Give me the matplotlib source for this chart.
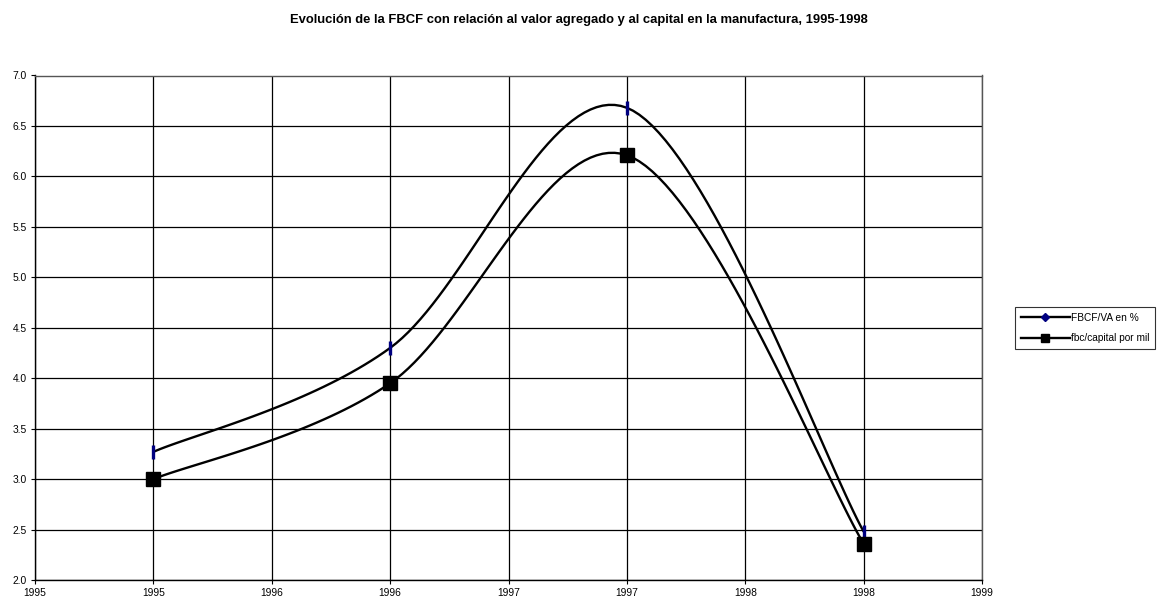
import numpy as np
import matplotlib
matplotlib.use("Agg")
import matplotlib.pyplot as plt
from matplotlib.lines import Line2D

years = [1995, 1996, 1997, 1998]
fbcf_va = [3.27, 4.30, 6.68, 2.48]
fbc_capital = [3.00, 3.95, 6.21, 2.36]
series_names = ["FBCF/VA en %", "fbc/capital por mil"]
title = "Evolución de la FBCF con relación al valor agregado y al capital en la manufactura, 1995-1998"

plt.rcParams['font.family'] = ['Liberation Sans', 'DejaVu Sans']


def smooth(xs, ys, n=40):
    # Excel-style smoothed line (Catmull-Rom Bezier through the points)
    P = np.column_stack([xs, ys]).astype(float)
    P = np.vstack([P[0], P, P[-1]])
    out = []
    t = np.linspace(0, 1, n)[:, None]
    for i in range(1, len(P) - 2):
        p0, p1, p2, p3 = P[i - 1], P[i], P[i + 1], P[i + 2]
        c1 = p1 + (p2 - p0) / 6
        c2 = p2 - (p3 - p1) / 6
        seg = ((1 - t) ** 3) * p1 + 3 * ((1 - t) ** 2) * t * c1 + 3 * (1 - t) * t ** 2 * c2 + t ** 3 * p2
        out.append(seg if i == 1 else seg[1:])
    S = np.vstack(out)
    return S[:, 0], S[:, 1]


fig = plt.figure(figsize=(11.61, 6.03), dpi=100)
ax = fig.add_axes([35 / 1161, 1 - 580 / 603, (982 - 35) / 1161, (580 - 75.5) / 603])

for vals in [fbcf_va, fbc_capital]:
    sx, sy = smooth(years, vals)
    ax.plot(sx, sy, color='black', lw=1.7, zorder=3, solid_capstyle='round')

ax.plot(years, fbcf_va, linestyle='none', marker='|', markersize=10.5, mew=2.4,
        color='#000080', zorder=4)
ax.plot(years, fbc_capital, linestyle='none', marker='s', markersize=10.5,
        color='black', zorder=4)

ax.set_xlim(1994.5, 1998.5)
ax.set_ylim(2.0, 7.0)
xt = np.arange(1994.5, 1998.51, 0.5)
ax.set_xticks(xt)
ax.set_xticklabels([str(int(np.floor(v + 0.5))) for v in xt], fontsize=7.4)
yt = np.arange(2.0, 7.01, 0.5)
ax.set_yticks(yt)
ax.set_yticklabels([f"{v:.1f}" for v in yt], fontsize=7.4)
ax.grid(True, color='black', lw=0.9)
ax.set_axisbelow(True)
ax.tick_params(direction='out', length=3, width=0.8, color='black', pad=3)
for side in ['left', 'bottom']:
    ax.spines[side].set_color('black')
    ax.spines[side].set_linewidth(1.0)
for side in ['top', 'right']:
    ax.spines[side].set_color('#555555')
    ax.spines[side].set_linewidth(1.0)

fig.text(579 / 1161, 1 - 20 / 603, title, ha='center', va='center', fontsize=9.4, fontweight='bold')

handles = [
    Line2D([], [], color='black', lw=1.7, marker='D', markersize=4.5, markerfacecolor='#000080',
           markeredgecolor='#000080'),
    Line2D([], [], color='black', lw=1.7, marker='s', markersize=6, markerfacecolor='black',
           markeredgecolor='black'),
]
leg = fig.legend(handles, series_names, loc='center left', bbox_to_anchor=(1015 / 1161, 1 - 328 / 603),
                 fontsize=7.3, frameon=True, fancybox=False, edgecolor='black', handlelength=4.8,
                 handletextpad=0.1, borderpad=0.6, labelspacing=1.0, borderaxespad=0)
leg.get_frame().set_linewidth(0.8)

fig.savefig('out.png', dpi=100, facecolor='white')
